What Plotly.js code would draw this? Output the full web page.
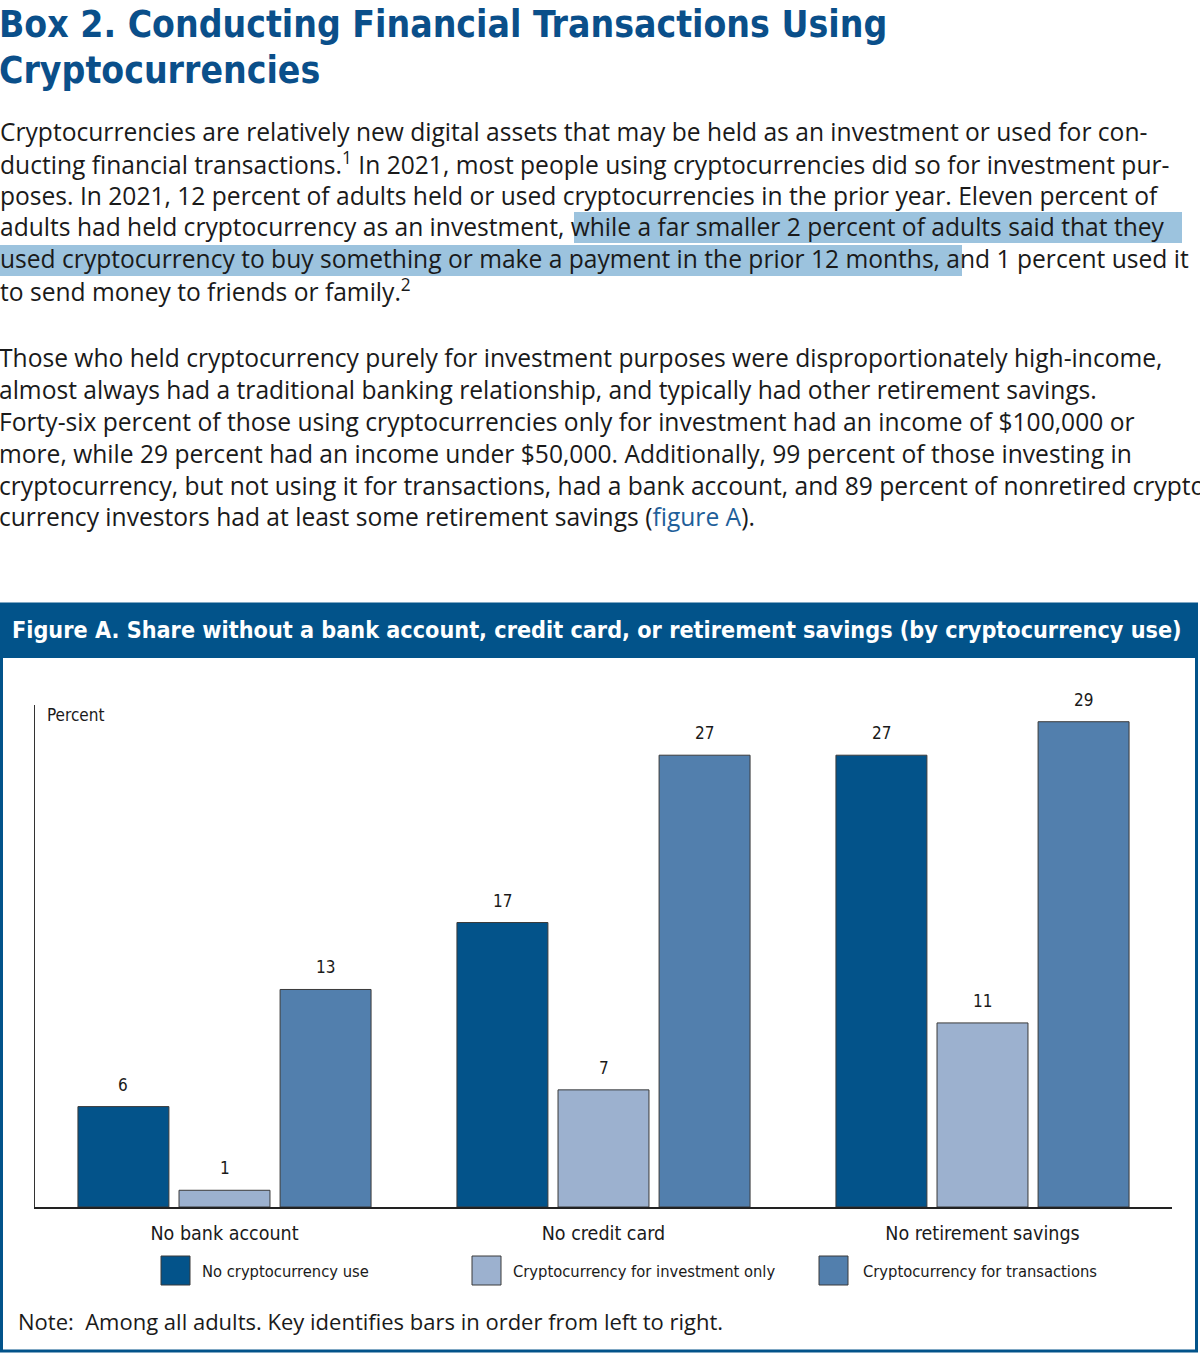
<!DOCTYPE html>
<html>
<head>
<meta charset="utf-8">
<script src="https://cdn.plot.ly/plotly-3.0.1.min.js"></script>
<style>
html,body{margin:0;padding:0;background:#fff;}
#chart{width:1200px;height:1355px;}
</style>
</head>
<body>
<div id="chart"></div>
<script>
// ---- Data ----
const categories = ['No bank account', 'No credit card', 'No retirement savings'];
const seriesNames = ['No cryptocurrency use', 'Cryptocurrency for investment only', 'Cryptocurrency for transactions'];
const noCryptoUse = [6, 17, 27];
const investmentOnly = [1, 7, 11];
const forTransactions = [13, 27, 29];
const seriesValues = [noCryptoUse, investmentOnly, forTransactions];
const seriesColors = ['#03538a', '#9cb1cf', '#527fad'];

const titleLines = ['Box 2. Conducting Financial Transactions Using', 'Cryptocurrencies'];
const para1 = [
  'Cryptocurrencies are relatively new digital assets that may be held as an investment or used for con-',
  'ducting financial transactions.<sup>1</sup> In 2021, most people using cryptocurrencies did so for investment pur-',
  'poses. In 2021, 12 percent of adults held or used cryptocurrencies in the prior year. Eleven percent of',
  'adults had held cryptocurrency as an investment, while a far smaller 2 percent of adults said that they',
  'used cryptocurrency to buy something or make a payment in the prior 12 months, and 1 percent used it',
  'to send money to friends or family.<sup>2</sup>'
];
const para2 = [
  'Those who held cryptocurrency purely for investment purposes were disproportionately high-income,',
  'almost always had a traditional banking relationship, and typically had other retirement savings.',
  'Forty-six percent of those using cryptocurrencies only for investment had an income of $100,000 or',
  'more, while 29 percent had an income under $50,000. Additionally, 99 percent of those investing in',
  'cryptocurrency, but not using it for transactions, had a bank account, and 89 percent of nonretired crypto-',
  'currency investors had at least some retirement savings (<span style="color:#1f5f9a">figure A</span>).'
];
const figureTitle = 'Figure A. Share without a bank account, credit card, or retirement savings (by cryptocurrency use)';
const yLabel = 'Percent';
const noteText = 'Note:  Among all adults. Key identifies bars in order from left to right.';

// ---- Helpers ----
const W = 1200, H = 1355;
const px = x => x / W;
const py = y => 1 - y / H;
const BODY = '"Open Sans", Roboto, "Liberation Sans", Arial, sans-serif';
const NARROW = '"DejaVu Sans Condensed", "DejaVu Sans", sans-serif';
const TXT = '#1a1a1a';
const BLUE = '#02538a';

const bargap = 0.2, bargroupgap = 0.1;
const slot = (1 - bargap) / 3;

const traces = seriesValues.map((vals, j) => ({
  type: 'bar',
  name: seriesNames[j],
  x: categories,
  y: vals,
  marker: {color: seriesColors[j], line: {color: '#3a3a3a', width: 1}},
  hoverinfo: 'x+y+name',
  showlegend: false
}));

const annotations = [];
const shapes = [];
const note = (o) => Object.assign({xref: 'paper', yref: 'paper', showarrow: false, borderpad: 0, borderwidth: 0,
  xanchor: 'left', yanchor: 'middle'}, o);

// Title
titleLines.forEach((t, i) => {
  annotations.push(note({x: px(-1), y: py(i === 0 ? 25 : 71),
    text: '<b>' + t + '</b>', font: {family: NARROW, size: 37, color: '#0a4f8a'}}));
});
// Paragraphs
const BODY_SIZE = 24.6;
para1.forEach((t, i) => {
  annotations.push(note({x: px(0), y: py(131 + i * 32),
    text: t, font: {family: BODY, size: BODY_SIZE, color: TXT}}));
});
para2.forEach((t, i) => {
  annotations.push(note({x: px(-1), y: py(357 + i * 32),
    text: t, font: {family: BODY, size: BODY_SIZE, color: TXT}}));
});
// Highlights
shapes.push({type: 'rect', xref: 'paper', yref: 'paper', x0: px(574), x1: px(1182), y0: py(212), y1: py(243), fillcolor: '#9cc3de', line: {width: 0}, layer: 'below'});
shapes.push({type: 'rect', xref: 'paper', yref: 'paper', x0: px(0), x1: px(962), y0: py(245), y1: py(276), fillcolor: '#9cc3de', line: {width: 0}, layer: 'below'});

// Figure box
shapes.push({type: 'rect', xref: 'paper', yref: 'paper', x0: px(1.5), x1: px(1196.5), y0: py(604), y1: py(1351), fillcolor: 'rgba(0,0,0,0)', line: {color: BLUE, width: 3}, layer: 'below'});
shapes.push({type: 'rect', xref: 'paper', yref: 'paper', x0: px(0), x1: px(1198), y0: py(603), y1: py(658), fillcolor: BLUE, line: {width: 0}, layer: 'below'});
annotations.push(note({x: px(12), y: py(630),
  text: '<b>' + figureTitle + '</b>', font: {family: NARROW, size: 23.2, color: '#ffffff'}}));

// Y label
annotations.push(note({x: px(47), y: py(715),
  text: yLabel, font: {family: NARROW, size: 17, color: TXT}}));

// Value labels
seriesValues.forEach((vals, j) => {
  vals.forEach((v, i) => {
    annotations.push({xref: 'x', yref: 'y', x: i + (j - 1) * slot, y: v, xanchor: 'center', yanchor: 'middle', yshift: 22,
      text: String(v), showarrow: false, borderpad: 0, borderwidth: 0, font: {family: NARROW, size: 17, color: TXT}});
  });
});

// Legend (manual, large swatches)
const legX = [161, 472, 819];
const legTX = [202, 513, 863];
seriesNames.forEach((n, j) => {
  shapes.push({type: 'rect', xref: 'paper', yref: 'paper', x0: px(legX[j]), x1: px(legX[j] + 29), y0: py(1256), y1: py(1285),
    fillcolor: seriesColors[j], line: {color: '#3a3a3a', width: 1}});
  annotations.push(note({x: px(legTX[j]), y: py(1271),
    text: n, font: {family: NARROW, size: 16.4, color: TXT}}));
});

// Note
annotations.push(note({x: px(18), y: py(1321),
  text: noteText, font: {family: BODY, size: 22, color: TXT}}));

const layout = {
  width: W, height: H,
  margin: {l: 0, r: 0, t: 0, b: 0, pad: 0},
  paper_bgcolor: '#ffffff', plot_bgcolor: 'rgba(0,0,0,0)',
  barmode: 'group', bargap: bargap, bargroupgap: bargroupgap,
  showlegend: false,
  xaxis: {
    domain: [px(35), px(1172)], range: [-0.5, 2.5], type: 'category',
    categoryorder: 'array', categoryarray: categories,
    showline: true, linecolor: '#222', linewidth: 1.5, showgrid: false, zeroline: false,
    ticks: '', ticklabelstandoff: 8,
    tickfont: {family: NARROW, size: 19.5, color: TXT}, fixedrange: true
  },
  yaxis: {
    domain: [py(1207), py(705)], range: [0, 30],
    showline: true, linecolor: '#333', linewidth: 1, showgrid: false, zeroline: false,
    ticks: '', showticklabels: false, fixedrange: true
  },
  annotations: annotations,
  shapes: shapes,
  font: {family: BODY, color: TXT}
};

Plotly.newPlot('chart', traces, layout, {displayModeBar: false, staticPlot: true});
</script>
</body>
</html>
